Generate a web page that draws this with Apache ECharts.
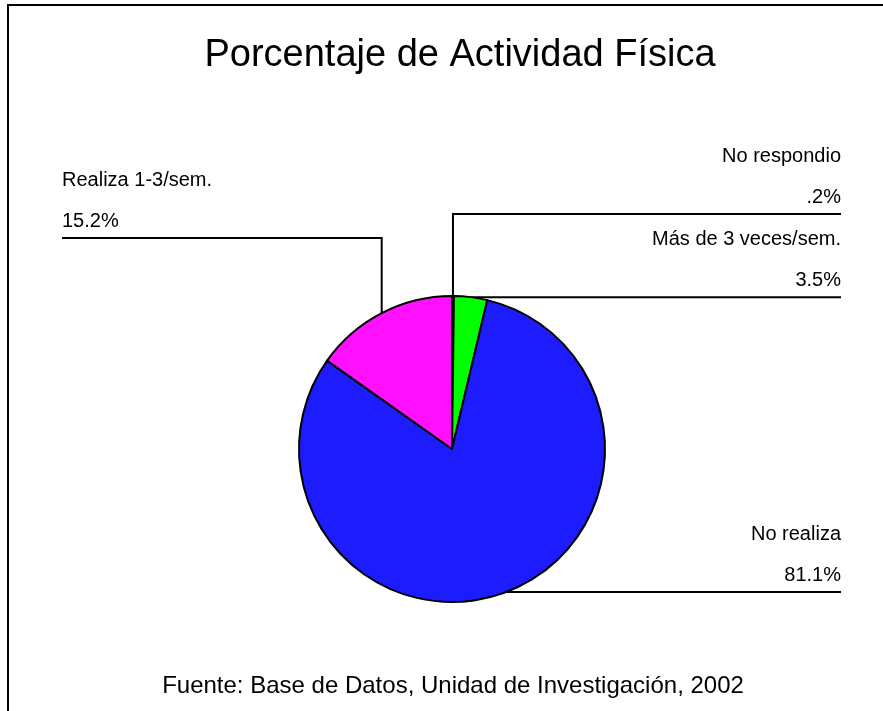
<!DOCTYPE html>
<html>
<head>
<meta charset="utf-8">
<script src="https://cdn.jsdelivr.net/npm/echarts@6/dist/echarts.min.js"></script>
<style>
  html, body { margin: 0; padding: 0; background: #fff; }
  #chartPie { width: 883px; height: 711px; }
</style>
</head>
<body>
<div id="chartPie"></div>
<script>
// datos
var categorias = ['No respondio', 'Más de 3 veces/sem.', 'No realiza', 'Realiza 1-3/sem.'];
var porcentajes = [0.2, 3.5, 81.1, 15.2];
var etiquetasValor = ['.2%', '3.5%', '81.1%', '15.2%'];
var colores = ['#ffffff', '#00ff00', '#1c1cff', '#ff10ff'];

var titulo = 'Porcentaje de Actividad Física';
var fuente = 'Fuente: Base de Datos, Unidad de Investigación, 2002';

// posicion de las lineas guia: y de la linea horizontal, extremo x, alineacion
var guias = [
  { y: 214, endX: 841, align: 'right', elbow: true },
  { y: null, endX: 841, align: 'right', elbow: false },
  { y: null, endX: 841, align: 'right', elbow: false },
  { y: 238, endX: 62, align: 'left', elbow: true }
];

var chartPie = echarts.init(document.getElementById('chartPie'));
var option = {
  animation: false,
  textStyle: { fontFamily: 'Liberation Sans, Arial, sans-serif' },
  graphic: [
    {
      type: 'rect',
      shape: { x: 8, y: 5, width: 900, height: 800 },
      style: { fill: 'none', stroke: '#000', lineWidth: 2 },
      z: 0
    },
    {
      type: 'text',
      x: 460, y: 56,
      style: {
        text: titulo, align: 'center', verticalAlign: 'middle',
        font: '38px "Liberation Sans", Arial, sans-serif', fill: '#000'
      }
    },
    {
      type: 'text',
      x: 453, y: 686,
      style: {
        text: fuente, align: 'center', verticalAlign: 'middle',
        font: '24px "Liberation Sans", Arial, sans-serif', fill: '#000'
      }
    }
  ],
  series: [
    {
      type: 'pie',
      center: [452, 449],
      radius: 153,
      startAngle: 90,
      clockwise: true,
      avoidLabelOverlap: false,
      itemStyle: { borderColor: '#000', borderWidth: 2 },
      label: {
        show: true,
        color: '#000',
        fontSize: 20,
        lineHeight: 41,
        formatter: function (p) {
          return categorias[p.dataIndex] + '\n' + etiquetasValor[p.dataIndex];
        }
      },
      labelLine: {
        show: true,
        lineStyle: { color: '#000', width: 2 }
      },
      labelLayout: function (params) {
        var g = guias[params.dataIndex];
        var p0 = params.labelLinePoints ? params.labelLinePoints[0] : [452, 296];
        var lineY = g.y === null ? p0[1] : g.y;
        var pts = g.elbow
          ? [p0, [p0[0], lineY], [g.endX, lineY]]
          : [p0, [g.endX, lineY]];
        return {
          x: g.endX,
          y: lineY - 37,
          align: g.align,
          verticalAlign: 'middle',
          labelLinePoints: pts
        };
      },
      data: categorias.map(function (c, i) {
        return { name: c, value: porcentajes[i], itemStyle: { color: colores[i] } };
      })
    }
  ]
};
chartPie.setOption(option);
</script>
</body>
</html>
